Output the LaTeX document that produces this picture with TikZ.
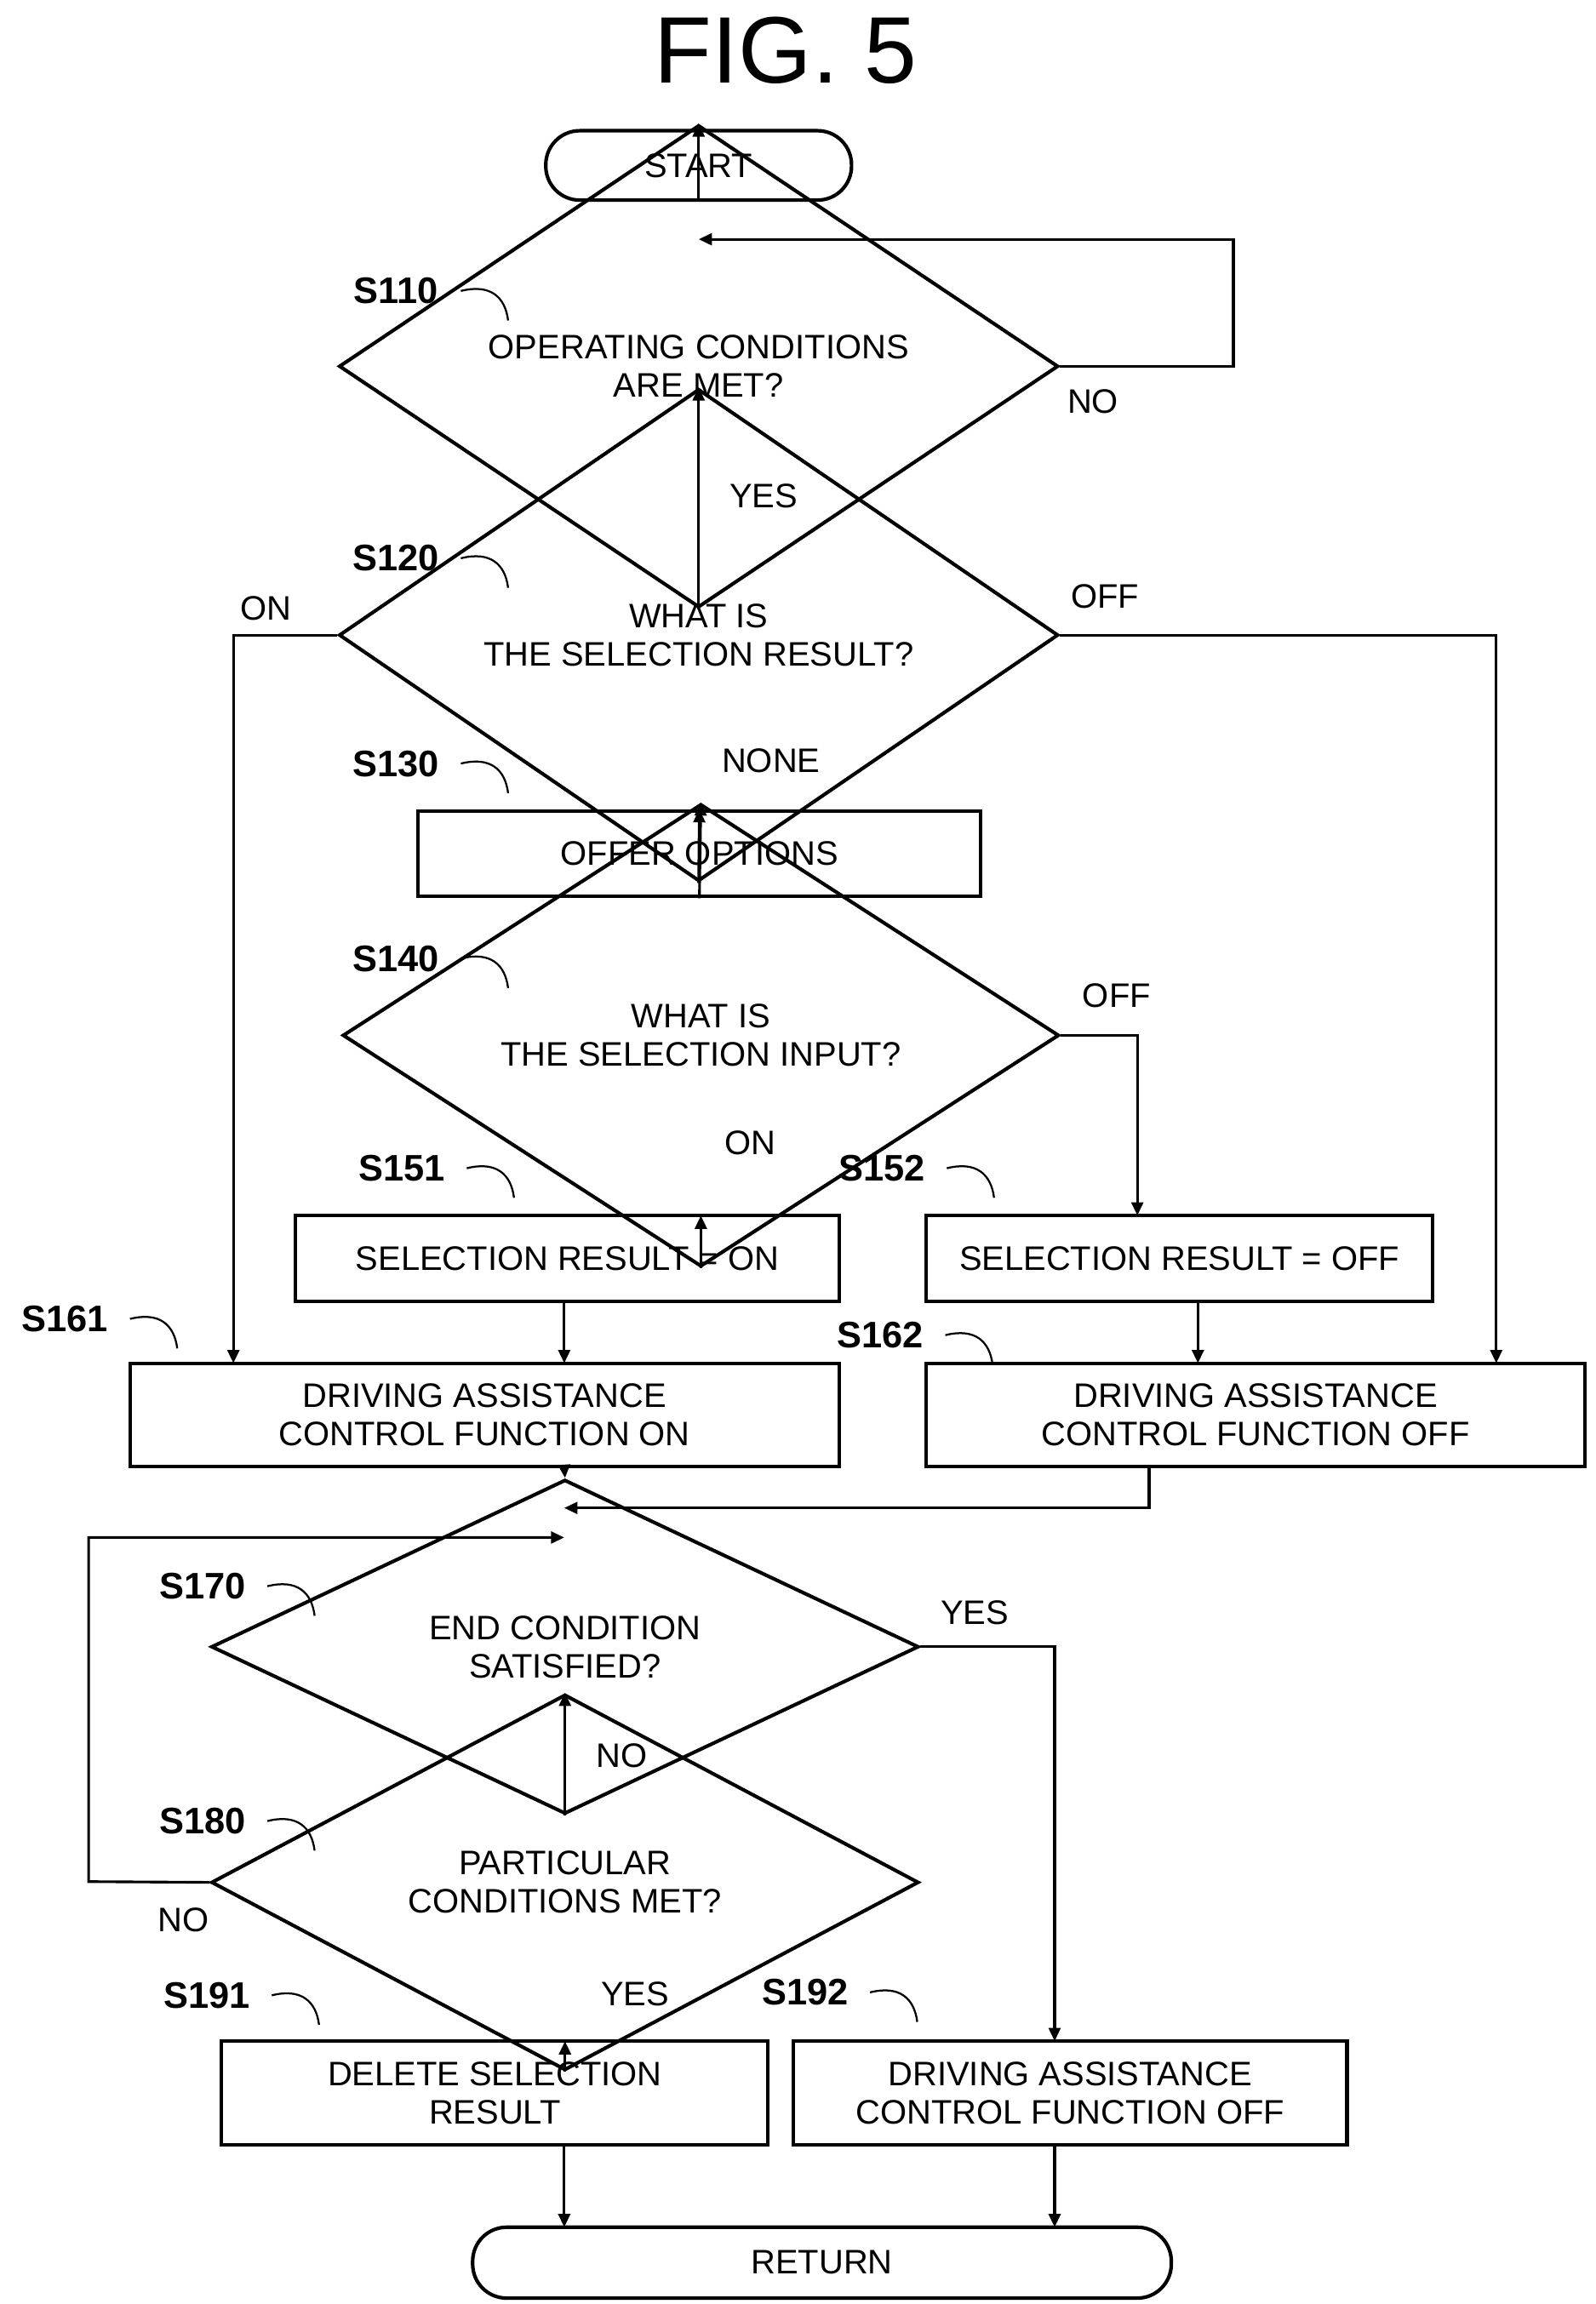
\documentclass[tikz,border=0pt]{standalone}
\usepackage{fontspec}
\setmainfont{Liberation Sans}
\usetikzlibrary{shapes.geometric,arrows.meta}
\begin{document}
\begin{tikzpicture}[x=1pt,y=-1pt,
  every node/.style={font=\fontsize{23}{26}\selectfont},
  box/.style={draw,line width=2.4pt,rectangle,inner sep=0pt,align=center},
  term/.style={draw,line width=2.4pt,rounded corners=23pt,inner sep=0pt},
  dia/.style={draw,line width=2.4pt,diamond,inner sep=0pt,align=center},
  ln/.style={line width=1.8pt},
  arr/.style={ln,-{Triangle[length=9pt,width=8pt]}},
  stp/.style={font=\fontsize{25}{28}\selectfont\bfseries},
  tl/.style={font=\fontsize{23}{26}\selectfont},
  sq/.style={line width=1.3pt}]
\useasboundingbox (0,0) rectangle (1080,1560);
\node[font=\fontsize{64}{70}\selectfont] (title) at (532,34) {FIG. 5};
\node[term,minimum width=207pt,minimum height=47pt] (start) at (473,112) {START};
\node[dia,minimum width=487pt,minimum height=124pt] (s110) at (473,248) {OPERATING CONDITIONS\\ARE MET?};
\node[dia,minimum width=487pt,minimum height=126pt] (s120) at (473,430) {WHAT IS\\THE SELECTION RESULT?};
\node[box,minimum width=381pt,minimum height=58pt] (s130) at (473.5,578) {OFFER OPTIONS};
\node[dia,minimum width=485pt,minimum height=103pt] (s140) at (474.5,701) {WHAT IS\\THE SELECTION INPUT?};
\node[box,minimum width=368pt,minimum height=58pt] (s151) at (384,852) {SELECTION RESULT = ON};
\node[box,minimum width=343pt,minimum height=58pt] (s152) at (798.5,852) {SELECTION RESULT = OFF};
\node[box,minimum width=480pt,minimum height=70pt] (s161) at (328,958) {DRIVING ASSISTANCE\\CONTROL FUNCTION ON};
\node[box,minimum width=446pt,minimum height=70pt] (s162) at (850,958) {DRIVING ASSISTANCE\\CONTROL FUNCTION OFF};
\node[dia,minimum width=479pt,minimum height=104pt] (s170) at (382.5,1115) {END CONDITION\\SATISFIED?};
\node[dia,minimum width=479pt,minimum height=105pt] (s180) at (382.5,1274.5) {PARTICULAR\\CONDITIONS MET?};
\node[box,minimum width=370pt,minimum height=70pt] (s191) at (335,1417) {DELETE SELECTION\\RESULT};
\node[box,minimum width=375pt,minimum height=70pt] (s192) at (724.5,1417) {DRIVING ASSISTANCE\\CONTROL FUNCTION OFF};
\node[term,minimum width=473pt,minimum height=48pt] (ret) at (556.5,1532) {RETURN};
% coordinates
\coordinate (l1a) at (835,248); \coordinate (l1b) at (835,162); \coordinate (l1c) at (473,162);
\coordinate (onA) at (158,430); \coordinate (onB) at (158,923);
\coordinate (offA) at (1013,430); \coordinate (offB) at (1013,923);
\coordinate (o2A) at (770,701); \coordinate (o2B) at (770,823);
\coordinate (m1) at (778,1021); \coordinate (m2) at (382,1021);
\coordinate (y1) at (714,1115); \coordinate (y2) at (714,1382);
\coordinate (n1) at (60,1274); \coordinate (n2) at (60,1041); \coordinate (n3) at (382,1041);
% connectors
\draw[arr] (start.south) -- (s110.north);
\draw[arr] (s110.east) -- (l1a) -- (l1b) -- (l1c);
\draw[arr] (s110.south) -- (s120.north);
\draw[arr] (s120.west) -- (onA) -- (onB);
\draw[arr] (s120.east) -- (offA) -- (offB);
\draw[arr] (s120.south) -- (s130.north);
\draw[arr] (s130.south) -- (s140.north);
\draw[arr] (s140.east) -- (o2A) -- (o2B);
\draw[arr] (s140.south) -- (474.5,823);
\draw[arr] (382,881) -- (382,923);
\draw[arr] (811,881) -- (811,923);
\draw[arr] (382,993) -- (s170.north);
\draw[arr] (778,993) -- (m1) -- (m2);
\draw[arr] (s170.east) -- (y1) -- (y2);
\draw[arr] (s170.south) -- (s180.north);
\draw[arr] (s180.west) -- (n1) -- (n2) -- (n3);
\draw[arr] (s180.south) -- (382.5,1382);
\draw[arr] (382,1452) -- (382,1508);
\draw[arr] (714,1452) -- (714,1508);
% branch labels
\node[tl] (t1) at (740,272) {NO};
\node[tl] (t2) at (517,336) {YES};
\node[tl] (t3) at (180,412) {ON};
\node[tl] (t4) at (748,404) {OFF};
\node[tl] (t5) at (522,515) {NONE};
\node[tl] (t6) at (756,674) {OFF};
\node[tl] (t7) at (508,774) {ON};
\node[tl] (t8) at (660,1092) {YES};
\node[tl] (t9) at (421,1189) {NO};
\node[tl] (t10) at (124,1300) {NO};
\node[tl] (t11) at (430,1350) {YES};
% step labels
\foreach \n/\x/\y in {S110/268/197,S120/268/378,S130/268/517,S140/268/649,S151/272/791,S152/597/791,S161/44/893,S162/596/904,S170/137/1074,S180/137/1233,S191/140/1351,S192/545/1349}{
  \node[stp] (lab\n) at (\x,\y) {\n};
  \draw[sq] (\x+44,\y) .. controls (\x+64,\y-5) and (\x+74,\y+4) .. (\x+76,\y+20);
}
\end{tikzpicture}
\end{document}
